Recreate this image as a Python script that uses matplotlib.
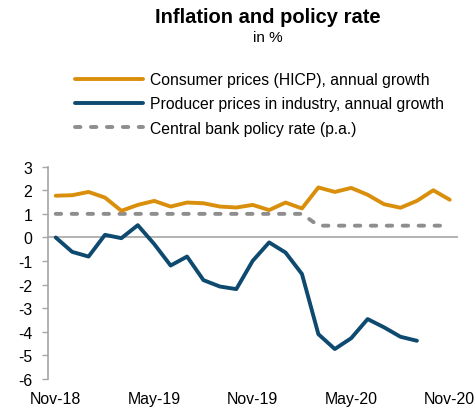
import matplotlib
matplotlib.use("Agg")
import matplotlib.pyplot as plt
import numpy as np

plt.rcParams['font.family'] = ['Liberation Sans', 'DejaVu Sans']

months = ["Nov-18", "Dec-18", "Jan-19", "Feb-19", "Mar-19", "Apr-19", "May-19",
          "Jun-19", "Jul-19", "Aug-19", "Sep-19", "Oct-19", "Nov-19", "Dec-19",
          "Jan-20", "Feb-20", "Mar-20", "Apr-20", "May-20", "Jun-20", "Jul-20",
          "Aug-20", "Sep-20", "Oct-20", "Nov-20"]

hicp = [1.77, 1.79, 1.93, 1.69, 1.13, 1.38, 1.55, 1.31, 1.48, 1.45, 1.31, 1.27,
        1.38, 1.16, 1.48, 1.23, 2.12, 1.93, 2.10, 1.81, 1.41, 1.26, 1.55, 2.00, 1.60]

ppi = [0.0, -0.61, -0.81, 0.11, -0.03, 0.52, -0.28, -1.19, -0.81, -1.81, -2.08,
       -2.19, -0.99, -0.21, -0.64, -1.55, -4.10, -4.73, -4.27, -3.46, -3.81,
       -4.21, -4.38]

policy = [1.0] * 16 + [0.5] * 9

tick_labels = ["Nov-18", "May-19", "Nov-19", "May-20", "Nov-20"]
yticks = [3, 2, 1, 0, -1, -2, -3, -4, -5, -6]

c_orange = "#DA8F0C"
c_blue = "#0E4A70"
c_gray = "#8E8E8E"

fig = plt.figure(figsize=(4.77, 4.10), dpi=100)
ax = fig.add_axes([0.0996, 0.0732, 0.8604, 0.5178])

x = np.arange(len(months))
ax.axhline(0, color="#A6A6A6", lw=1.2, zorder=1)
l1, = ax.plot(x[:len(hicp)], hicp, color=c_orange, lw=2.8, solid_capstyle='round',
              label="Consumer prices (HICP), annual growth", zorder=3)
l2, = ax.plot(x[:len(ppi)], ppi, color=c_blue, lw=2.8, solid_capstyle='round',
              label="Producer prices in industry, annual growth", zorder=3)
l3, = ax.plot(x[:len(policy)], policy, color=c_gray, lw=2.8, ls=(0, (1.4, 2.7)),
              dash_capstyle='round',
              label="Central bank policy rate (p.a.)", zorder=2)

ax.set_xlim(-0.5, len(months) - 0.5)
ax.set_ylim(-6, 3)
ax.set_yticks(yticks)
ax.set_yticklabels([str(v) for v in yticks])
ax.set_xticks([months.index(m) for m in tick_labels])
ax.set_xticklabels(tick_labels)
ax.tick_params(axis='x', length=0, labelsize=11.4, pad=8.5)
ax.tick_params(axis='y', length=4, width=1, color="#A6A6A6", labelsize=11.4, pad=7)

for s in ["top", "right", "bottom"]:
    ax.spines[s].set_visible(False)
ax.spines["left"].set_color("#A6A6A6")
ax.spines["left"].set_linewidth(1.2)

fig.text(0.562, 0.9585, "Inflation and policy rate", ha="center", va="center",
         fontsize=14.5, fontweight="bold")
fig.text(0.562, 0.907, "in %", ha="center", va="center", fontsize=11)

fig.legend(handles=[l1, l2, l3], loc="upper left", bbox_to_anchor=(0.157, 0.821),
           frameon=False, fontsize=11.3, handlelength=4.35, handletextpad=0.45,
           labelspacing=0.58, borderaxespad=0, borderpad=0)

fig.savefig("out.png", dpi=100)
